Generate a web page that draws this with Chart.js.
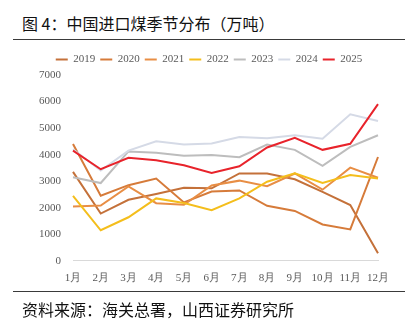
<!DOCTYPE html>
<html>
<head>
<meta charset="utf-8">
<script src="https://cdn.jsdelivr.net/npm/chart.js@4/dist/chart.umd.min.js"></script>
<style>
body { margin: 0; background: #fff; width: 418px; height: 331px; position: relative; overflow: hidden; }
.txt { position: absolute; left: 22px; font-family: "Noto Sans CJK SC", sans-serif; font-size: 16px; color: #111; white-space: nowrap; }
.rule { position: absolute; left: 13px; width: 392px; height: 1px; background: #3a3a3a; }
#box { position: absolute; left: 0; top: 45px; width: 418px; height: 251px; }
</style>
</head>
<body>
<div class="txt" style="top:11px;">图 4：中国进口煤季节分布（万吨）</div>
<div class="rule" style="top:39px;"></div>
<div id="box"><canvas id="c"></canvas></div>
<div class="rule" style="top:291px;"></div>
<div class="txt" style="top:297px;">资料来源：海关总署，山西证券研究所</div>
<script>
var months = ['1月', '2月', '3月', '4月', '5月', '6月', '7月', '8月', '9月', '10月', '11月', '12月'];
var years = ['2019', '2020', '2021', '2022', '2023', '2024', '2025'];
var y2019 = [3350, 1780, 2300, 2520, 2750, 2730, 3290, 3290, 3070, 2600, 2100, 280];
var y2020 = [4400, 2450, 2850, 3100, 2200, 2610, 2650, 2070, 1880, 1370, 1180, 3910];
var y2021 = [2050, 2080, 2800, 2170, 2110, 2840, 3020, 2810, 3290, 2680, 3510, 3130];
var y2022 = [2450, 1150, 1640, 2350, 2180, 1910, 2350, 2980, 3300, 2930, 3230, 3100];
var y2023 = [3150, 2930, 4120, 4070, 3960, 3990, 3900, 4380, 4180, 3580, 4290, 4730];
var y2024 = [4200, 3400, 4150, 4500, 4380, 4420, 4660, 4620, 4730, 4600, 5520, 5270];
var y2025 = [4150, 3450, 3880, 3790, 3600, 3310, 3560, 4270, 4630, 4180, 4410, 5900];
var colors = ['#C4713A', '#D67B3A', '#E88E45', '#F4BE1C', '#BDBDBD', '#D5DAE6', '#E8232B'];

var series = [y2019, y2020, y2021, y2022, y2023, y2024, y2025];
var datasets = [];
for (var i = 0; i < series.length; i++) {
    datasets.push({
        label: years[i],
        data: series[i],
        borderColor: colors[i],
        backgroundColor: colors[i],
        borderWidth: 2,
        pointRadius: 0,
        tension: 0,
        order: series.length - i
    });
}

var serif = 'Liberation Serif, DejaVu Serif, serif';

function draw() {
    new Chart(document.getElementById('c'), {
        type: 'line',
        data: { labels: months, datasets: datasets },
        options: {
            responsive: true,
            maintainAspectRatio: false,
            animation: false,
            layout: { padding: { left: 0, right: 0, top: 4, bottom: 0 } },
            plugins: {
                tooltip: { enabled: false },
                legend: {
                    position: 'top',
                    labels: {
                        usePointStyle: true,
                        pointStyle: 'line',
                        pointStyleWidth: 12,
                        padding: 5,
                        color: '#595959',
                        font: { family: serif, size: 11 },
                        sort: function (a, b) { return a.datasetIndex - b.datasetIndex; }
                    }
                }
            },
            scales: {
                x: {
                    grid: { display: false, drawTicks: false },
                    border: { display: true, color: '#D9D9D9', width: 1 },
                    ticks: { color: '#595959', font: { family: serif, size: 11 }, padding: 11, maxRotation: 0, autoSkip: false }
                },
                y: {
                    min: 0,
                    max: 7000,
                    grid: { display: false, drawTicks: false },
                    border: { display: false },
                    ticks: {
                        stepSize: 1000, color: '#595959', font: { family: serif, size: 11 }, padding: 12,
                        callback: function (v) { return String(v); }
                    },
                    afterFit: function (s) { s.width = 73; }
                },
                spacer: {
                    type: 'linear',
                    position: 'right',
                    grid: { display: false, drawTicks: false },
                    border: { display: false },
                    ticks: { display: false },
                    afterFit: function (s) { s.width = 40; }
                }
            }
        }
    });
}

document.fonts.load('11px "Liberation Serif"').then(draw, draw);
</script>
</body>
</html>
